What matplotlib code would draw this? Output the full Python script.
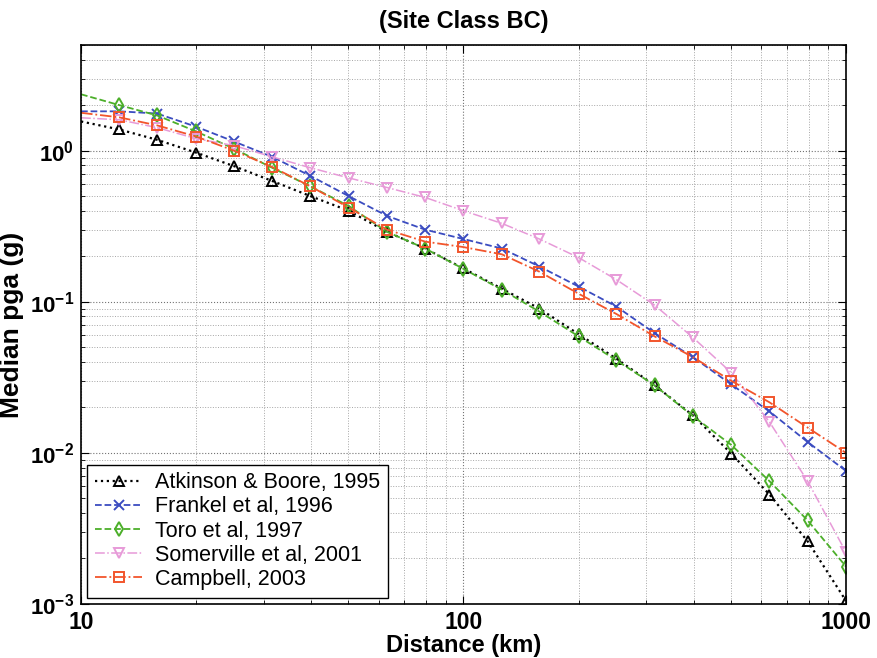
import numpy as np
import matplotlib
matplotlib.use("Agg")
from matplotlib import pyplot as plt
from matplotlib.ticker import FixedLocator, FuncFormatter, LogLocator, NullFormatter

plt.rcParams['font.family'] = ['Liberation Sans', 'DejaVu Sans']
plt.rcParams['mathtext.fontset'] = 'custom'
plt.rcParams['mathtext.rm'] = 'Liberation Sans'
plt.rcParams['mathtext.bf'] = 'Liberation Sans:bold'

####
# data
####
distance = [10, 12.6, 15.8, 20, 25.1, 31.6, 39.8, 50.1, 63.1, 79.4, 100,
            126, 158, 200, 251, 316, 398, 501, 631, 794, 1000]

atkinson = [1.56, 1.38, 1.18, 0.97, 0.79, 0.63, 0.50, 0.40, 0.29, 0.225, 0.166,
            0.122, 0.090, 0.061, 0.042, 0.028, 0.0177, 0.0099, 0.0053, 0.0026, 0.00105]
frankel = [1.82, 1.82, 1.76, 1.44, 1.15, 0.91, 0.68, 0.50, 0.37, 0.30, 0.26,
           0.225, 0.171, 0.126, 0.093, 0.062, 0.043, 0.0284, 0.0188, 0.0118, 0.0076]
toro = [2.36, 2.0, 1.71, 1.34, 1.03, 0.77, 0.58, 0.43, 0.29, 0.225, 0.165,
        0.12, 0.086, 0.059, 0.041, 0.028, 0.0175, 0.0113, 0.0065, 0.00357, 0.00177]
somerville = [1.65, 1.6, 1.42, 1.2, 1.08, 0.91, 0.77, 0.66, 0.57, 0.49, 0.40,
              0.33, 0.26, 0.196, 0.14, 0.095, 0.058, 0.034, 0.016, 0.0065, 0.0022]
campbell = [1.78, 1.66, 1.47, 1.24, 1.0, 0.78, 0.58, 0.42, 0.30, 0.25, 0.23,
            0.206, 0.158, 0.113, 0.083, 0.059, 0.043, 0.030, 0.0216, 0.0147, 0.0100]

labels = ["Atkinson & Boore, 1995", "Frankel et al, 1996", "Toro et al, 1997",
          "Somerville et al, 2001", "Campbell, 2003"]

fig = plt.figure(figsize=(8.77, 6.58), dpi=100)
ax = fig.add_axes([0.0924, 0.0821, 0.8722, 0.8495])

mk = dict(markevery=range(1, len(distance)), markersize=7, markeredgewidth=1.4,
          markerfacecolor='none')
ax.plot(distance, atkinson, ':', color='black', marker='^', lw=1.6, label=labels[0], **mk)
ax.plot(distance, frankel, '--', color='#3b4cc0', marker='x', lw=1.3, label=labels[1], **mk)
ax.plot(distance, toro, '--', color='#4caf2a', marker='d', lw=1.3, label=labels[2], **mk)
ax.plot(distance, somerville, '-.', color='#e79ad8', marker='v', lw=1.1, label=labels[3], **mk)
ax.plot(distance, campbell, '-.', color='#f2552c', marker='s', lw=1.3, label=labels[4], **mk)

ax.set_xscale('log')
ax.set_yscale('log')
ax.set_xlim(10, 1000)
ax.set_ylim(1e-3, 5)

ax.xaxis.set_major_locator(FixedLocator([10, 100, 1000]))
ax.xaxis.set_major_formatter(FuncFormatter(lambda v, p: "%d" % v))
ax.xaxis.set_minor_locator(LogLocator(base=10, subs=np.arange(2, 10)))
ax.xaxis.set_minor_formatter(NullFormatter())
ax.yaxis.set_major_locator(FixedLocator([1e-3, 1e-2, 1e-1, 1]))
ax.yaxis.set_major_formatter(FuncFormatter(
    lambda v, p: r"$\mathbf{10^{%d}}$" % int(round(np.log10(v)))))
ax.yaxis.set_minor_locator(LogLocator(base=10, subs=np.arange(2, 10)))
ax.yaxis.set_minor_formatter(NullFormatter())

ax.tick_params(which='both', direction='in', top=True, right=True)
ax.tick_params(which='major', length=6)
ax.tick_params(which='minor', length=3)
ax.tick_params(axis='x', labelsize=16.5, pad=5)
ax.tick_params(axis='y', labelsize=16, pad=5)
for t in ax.get_xticklabels():
	t.set_fontweight('bold')
ax.grid(True, which='major', linestyle=':', color='0.45', lw=0.8)
ax.grid(True, which='minor', linestyle=':', color='0.65', lw=0.7)
for s in ax.spines.values():
	s.set_linewidth(1.2)

ax.set_xlabel("Distance (km)", fontsize=17, fontweight='bold', labelpad=0)
ax.set_ylabel("Median pga (g)", fontsize=19, fontweight='bold', labelpad=4)
ax.set_title("(Site Class BC)", fontsize=17, fontweight='bold', pad=12)

leg = ax.legend(loc='lower left', fontsize=15.5, fancybox=False, edgecolor='black',
                framealpha=1, labelspacing=0.15, handlelength=2.2, borderaxespad=0.3,
                handletextpad=0.6, borderpad=0.35)
leg.get_frame().set_linewidth(1.0)

fig.savefig("out.png", dpi=100)
